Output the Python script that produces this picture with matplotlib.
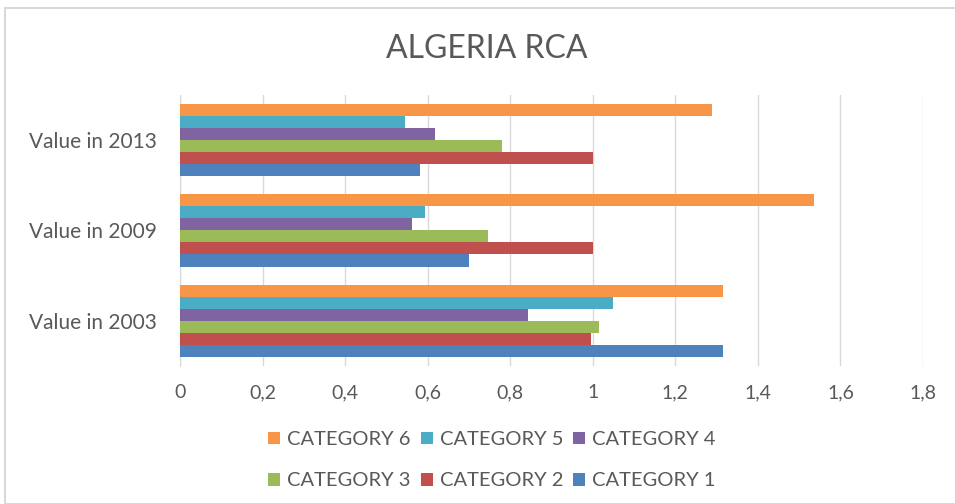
import numpy as np
import matplotlib.pyplot as plt
from matplotlib.patches import Rectangle

plt.rcParams['font.family'] = ['Lato', 'DejaVu Sans']

# groups from bottom to top
groups = ['Value in 2003', 'Value in 2009', 'Value in 2013']
series = ['CATEGORY 1', 'CATEGORY 2', 'CATEGORY 3', 'CATEGORY 4', 'CATEGORY 5', 'CATEGORY 6']
cat1 = [1.315, 0.699, 0.582]
cat2 = [0.995, 1.0, 1.0]
cat3 = [1.016, 0.745, 0.781]
cat4 = [0.842, 0.563, 0.618]
cat5 = [1.048, 0.594, 0.544]
cat6 = [1.315, 1.535, 1.290]
values = [cat1, cat2, cat3, cat4, cat5, cat6]
colors = ['#4F81BD', '#C0504D', '#9BBB59', '#8064A2', '#4BACC6', '#F79646']
xticks = [0, 0.2, 0.4, 0.6, 0.8, 1, 1.2, 1.4, 1.6, 1.8]

text_col = '#595959'

fig = plt.figure(figsize=(9.55, 5.04), dpi=100)
ax = fig.add_axes([0.1885, 0.274, 0.778, 0.5377])

y = np.arange(len(groups))
h = 0.8 / len(series)
bars = []
for k, (vals, c) in enumerate(zip(values, colors)):
    b = ax.barh(y + (k - 2.5) * h, vals, height=h, color=c, zorder=3,
                label=series[k])
    bars.append(b)

ax.set_xlim(0, 1.8)
ax.set_ylim(-0.5, 2.5)
ax.set_xticks(xticks)
ax.set_xticklabels([str(t).replace('.', ',') for t in xticks])
ax.set_yticks(y)
ax.set_yticklabels(groups)
ax.tick_params(axis='x', length=0, pad=13, labelsize=14, labelcolor=text_col)
ax.tick_params(axis='y', length=0, pad=17, labelsize=15, labelcolor=text_col)
ax.grid(axis='x', color='#D9D9D9', linewidth=1, zorder=0)
for s in ['top', 'right', 'bottom']:
    ax.spines[s].set_visible(False)
ax.spines['left'].set_color('#D9D9D9')

fig.text(0.51, 0.903, 'ALGERIA RCA', ha='center', va='center', fontsize=23,
         color=text_col)

# legend order: 6 5 4 / 3 2 1 (matplotlib fills columns first)
order = [5, 2, 4, 1, 3, 0]
leg = fig.legend([bars[i] for i in order], [series[i] for i in order],
                 loc='center', bbox_to_anchor=(0.515, 0.087), ncol=3,
                 frameon=False, fontsize=14.5, handlelength=0.6,
                 handleheight=0.6, handletextpad=0.35, columnspacing=0.5,
                 labelspacing=1.2, labelcolor=text_col)

fig.patches.append(Rectangle((5 / 955, 0), 1, 1 - 8 / 504, transform=fig.transFigure,
                             fill=False, edgecolor='#D9D9D9', linewidth=1.5))

fig.savefig('out.png', dpi=100)
